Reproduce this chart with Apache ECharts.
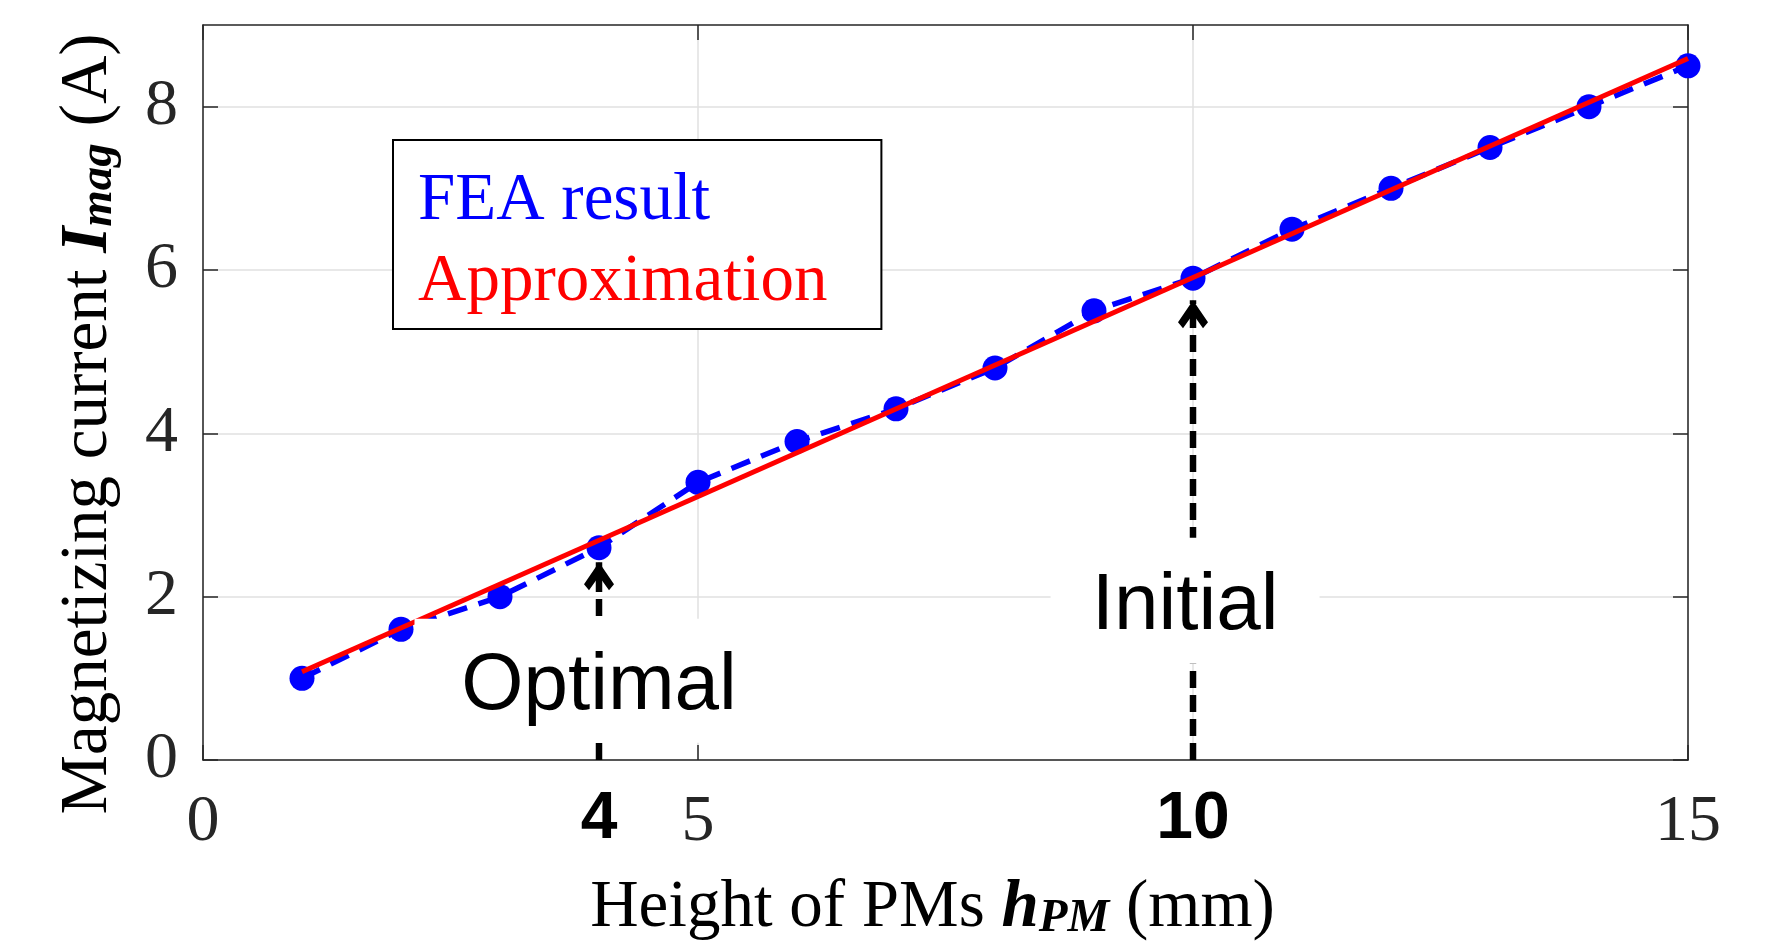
<!DOCTYPE html>
<html>
<head>
<meta charset="utf-8">
<script src="https://cdn.jsdelivr.net/npm/echarts@6/dist/echarts.min.js"></script>
<style>
  html, body { margin: 0; padding: 0; background: #ffffff; }
  #chart { width: 1787px; height: 952px; }
</style>
</head>
<body>
<div id="chart"></div>
<script>
// ---- data ----
const xValues = [1, 2, 3, 4, 5, 6, 7, 8, 9, 10, 11, 12, 13, 14, 15];
const feaValues = [1.0, 1.6, 2.0, 2.6, 3.4, 3.9, 4.3, 4.8, 5.5, 5.9, 6.5, 7.0, 7.5, 8.0, 8.5];
const approxX = [1, 15];
const approxY = [1.08, 8.59];
const xTickLabels = [0, 4, 5, 10, 15];
const boldXLabels = [4, 10];
const yTickLabels = [0, 2, 4, 6, 8];
const arrowX = [4, 10];
const arrowTipY = [2.42, 5.63];
const annotNames = ['Optimal', 'Initial'];
const annotX = [4, 9.92];
const annotY = [0.97, 1.95];
const seriesNames = ['FEA result', 'Approximation'];

const SERIF = "'Liberation Serif', 'Times New Roman', serif";
const SANS = "'Liberation Sans', Arial, sans-serif";
const AX = '#262626';
const annotBoxSizes = [[369, 124], [269, 126]];

const chart = echarts.init(document.getElementById('chart'), null, { renderer: 'canvas' });

const feaData = xValues.map((x, i) => [x, feaValues[i]]);
const approxData = approxX.map((x, i) => [x, approxY[i]]);
const tipData = arrowX.map((x, i) => [x, arrowTipY[i]]);
const annotData = annotNames.map((n, i) => ({
  name: n, value: [annotX[i], annotY[i]], symbolSize: annotBoxSizes[i]
}));

const chevron = 'path://M15,0 L30,22 L25,28 L15,14 L5,28 L0,22 Z';

const shaftSeries = arrowX.map((x, i) => ({
  name: 'shaft' + i,
  type: 'line',
  data: [[x, 0], [x, arrowTipY[i]]],
  symbol: 'none',
  lineStyle: { color: '#000000', width: 6.5, type: [17, 7], opacity: 1 },
  silent: true,
  z: 3
}));

const option = {
  animation: false,
  backgroundColor: '#ffffff',
  grid: { left: 203, right: 99, top: 25, bottom: 192, outerBoundsMode: 'none' },
  legend: {
    orient: 'vertical',
    left: 393,
    top: 140,
    selectedMode: false,
    icon: 'rect',
    itemWidth: 0,
    itemHeight: 0,
    itemGap: 0,
    padding: [21, 54, 6, 20],
    borderColor: '#000',
    borderWidth: 2,
    backgroundColor: '#ffffff',
    textStyle: { fontFamily: SERIF, fontSize: 67, lineHeight: 81 },
    data: [
      { name: seriesNames[0], textStyle: { color: '#0000ff' } },
      { name: seriesNames[1], textStyle: { color: '#ff0000' } }
    ]
  },
  xAxis: [
    {
      type: 'value', min: 0, max: 15, interval: 5, position: 'bottom',
      name: '{t|Height of PMs }{i|h}{s|PM}{t| (mm)}',
      nameLocation: 'middle', nameGap: 115, nameMoveOverlap: false,
      nameTextStyle: {
        fontSize: 67, lineHeight: 67, padding: [0, 26, 0, 0],
        rich: {
          t: { fontFamily: SERIF, fontSize: 67, lineHeight: 67, color: '#000' },
          i: { fontFamily: SERIF, fontSize: 67, lineHeight: 67, fontStyle: 'italic', fontWeight: 'bold', color: '#000' },
          s: { fontFamily: SERIF, fontSize: 47, lineHeight: 17, fontStyle: 'italic', fontWeight: 'bold', color: '#000', verticalAlign: 'bottom' }
        }
      },
      axisLine: { show: true, onZero: false, lineStyle: { color: AX, width: 1.5 } },
      axisTick: { show: true, inside: true, length: 15, lineStyle: { color: AX, width: 1.5 } },
      axisLabel: {
        show: true, margin: 29, customValues: xTickLabels,
        formatter: v => boldXLabels.indexOf(v) >= 0 ? '{b|' + v + '}' : '{n|' + v + '}',
        rich: {
          n: { fontFamily: SERIF, fontSize: 66, lineHeight: 67, color: AX },
          b: { fontFamily: SANS, fontSize: 66, lineHeight: 67, fontWeight: 'bold', color: '#000', padding: [0, 0, 5, 0] }
        }
      },
      splitLine: { show: true, lineStyle: { color: '#e0e0e0', width: 1.5 } }
    },
    {
      type: 'value', min: 0, max: 15, interval: 5, position: 'top',
      axisLine: { show: true, onZero: false, lineStyle: { color: AX, width: 1.5 } },
      axisTick: { show: true, inside: true, length: 15, lineStyle: { color: AX, width: 1.5 } },
      axisLabel: { show: false },
      splitLine: { show: false }
    }
  ],
  yAxis: [
    {
      type: 'value', min: 0, max: 9, interval: 2, position: 'left',
      name: '{t|Magnetizing current }{i|I}{s|mag}{t| (A)}',
      nameLocation: 'middle', nameRotate: 90, nameGap: 81, nameMoveOverlap: false,
      nameTextStyle: {
        fontSize: 67, lineHeight: 67, padding: [0, 63, 0, 0],
        rich: {
          t: { fontFamily: SERIF, fontSize: 67, lineHeight: 67, color: '#000' },
          i: { fontFamily: SERIF, fontSize: 67, lineHeight: 67, fontStyle: 'italic', fontWeight: 'bold', color: '#000' },
          s: { fontFamily: SERIF, fontSize: 47, lineHeight: 17, fontStyle: 'italic', fontWeight: 'bold', color: '#000', verticalAlign: 'bottom' }
        }
      },
      axisLine: { show: true, onZero: false, lineStyle: { color: AX, width: 1.5 } },
      axisTick: { show: true, inside: true, length: 15, customValues: yTickLabels, lineStyle: { color: AX, width: 1.5 } },
      axisLabel: {
        show: true, margin: 25, customValues: yTickLabels,
        fontFamily: SERIF, fontSize: 66, color: AX
      },
      splitLine: { show: true, lineStyle: { color: '#e0e0e0', width: 1.5 } }
    },
    {
      type: 'value', min: 0, max: 9, interval: 2, position: 'right',
      axisLine: { show: true, onZero: false, lineStyle: { color: AX, width: 1.5 } },
      axisTick: { show: true, inside: true, length: 15, customValues: yTickLabels, lineStyle: { color: AX, width: 1.5 } },
      axisLabel: { show: false },
      splitLine: { show: false }
    }
  ],
  series: shaftSeries.concat([
    {
      name: 'arrowheads',
      type: 'scatter',
      data: tipData,
      symbol: chevron,
      symbolSize: [30, 28],
      symbolOffset: [0, '50%'],
      itemStyle: { color: '#000000', opacity: 1 },
      silent: true,
      z: 3
    },
    {
      name: seriesNames[0],
      type: 'line',
      data: feaData,
      symbol: 'circle',
      symbolSize: 25,
      itemStyle: { color: '#0000ff' },
      lineStyle: { color: '#0000ff', width: 5.5, type: [20, 12] },
      silent: true,
      z: 4
    },
    {
      name: seriesNames[1],
      type: 'line',
      data: approxData,
      symbol: 'none',
      itemStyle: { color: '#ff0000' },
      lineStyle: { color: '#ff0000', width: 5 },
      silent: true,
      z: 5
    },
    {
      name: 'annotations',
      type: 'scatter',
      data: annotData,
      symbol: 'rect',
      itemStyle: { color: '#ffffff', opacity: 1 },
      silent: true,
      z: 20,
      label: {
        show: true,
        position: 'inside',
        offset: [0, 6],
        formatter: '{b}',
        fontFamily: SANS,
        fontSize: 80,
        lineHeight: 80,
        color: '#000000',
        opacity: 1,
        textBorderWidth: 0
      }
    }
  ])
};

chart.setOption(option);
</script>
</body>
</html>
